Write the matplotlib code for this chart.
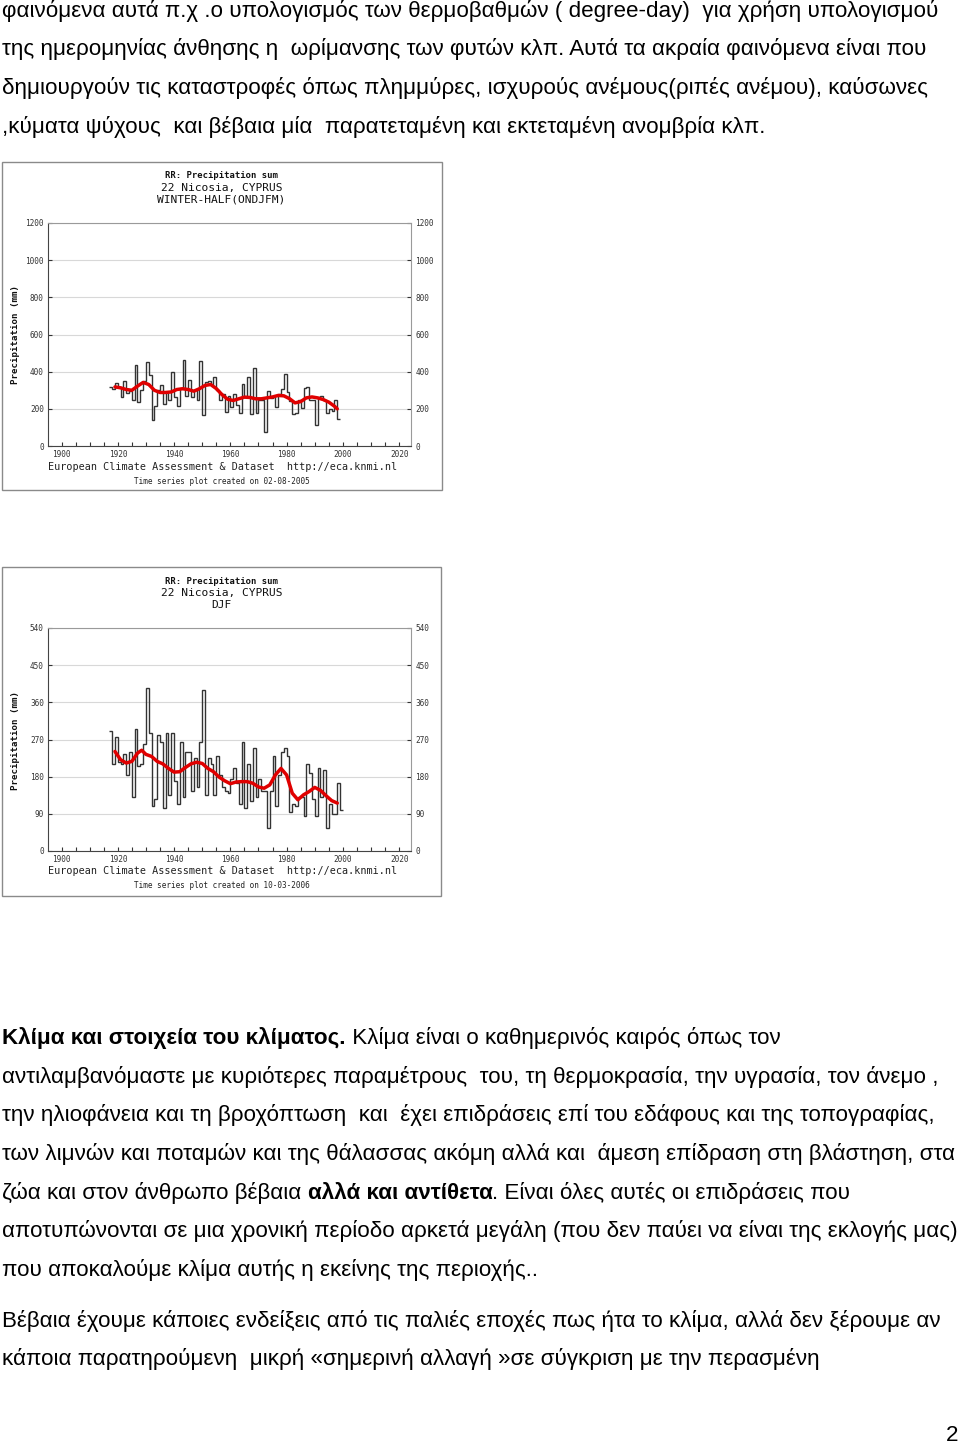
import numpy as np
import matplotlib
matplotlib.use("Agg")
import matplotlib.pyplot as plt
from matplotlib.patches import Rectangle

# --- data (Nicosia precipitation) ---
start_winter = 1917
winter_half = [320, 305, 340, 320, 265, 350, 285, 295, 250, 435, 235, 300, 350, 450, 380, 140,
               215, 300, 330, 225, 290, 250, 400, 265, 215, 310, 465, 270, 355, 265, 300, 250,
               460, 165, 345, 350, 330, 370, 300, 245, 280, 185, 270, 210, 280, 220, 180, 335,
               265, 370, 170, 420, 180, 250, 250, 75, 295, 260, 265, 210, 280, 305, 385, 290,
               240, 170, 180, 250, 205, 310, 320, 250, 245, 115, 265, 270, 245, 175, 200, 190,
               250, 145]
winter_smooth_yr = [1919, 1921, 1923, 1925, 1927, 1929, 1931, 1933, 1935, 1937, 1939, 1941, 1943,
                    1945, 1947, 1949, 1951, 1953, 1955, 1957, 1959, 1961, 1963, 1965, 1967, 1969,
                    1971, 1973, 1975, 1977, 1979, 1981, 1983, 1985, 1987, 1989, 1991, 1993, 1995,
                    1997, 1998]
winter_smooth = [318, 313, 304, 300, 322, 342, 331, 300, 288, 288, 291, 304, 308, 304, 295, 308,
                 326, 331, 309, 277, 252, 245, 254, 263, 261, 254, 254, 259, 264, 272, 270, 255,
                 232, 239, 259, 264, 259, 250, 236, 214, 200]

start_djf = 1917
djf = [290, 210, 275, 215, 210, 235, 185, 240, 130, 295, 205, 210, 260, 395, 285, 110, 125, 280,
       265, 105, 285, 135, 285, 170, 115, 265, 130, 240, 240, 145, 225, 155, 265, 390, 135, 225,
       210, 135, 230, 185, 155, 145, 140, 175, 200, 165, 115, 265, 105, 210, 120, 250, 130, 175,
       145, 145, 55, 145, 230, 110, 185, 240, 250, 230, 95, 115, 110, 130, 130, 85, 210, 190,
       125, 85, 200, 130, 195, 55, 115, 90, 90, 165, 100]
djf_smooth_yr = [1919, 1921, 1923, 1925, 1927, 1928.5, 1930, 1932, 1934, 1936, 1938, 1940, 1942,
                 1944, 1946, 1948, 1950, 1952, 1954, 1956, 1958, 1960, 1962, 1964, 1966, 1968,
                 1970, 1972, 1974, 1976, 1978, 1980, 1982, 1984, 1986, 1988, 1990, 1992, 1994,
                 1996, 1998]
djf_smooth = [241, 221, 213, 217, 237, 244, 234, 229, 217, 211, 200, 191, 192, 202, 211, 215, 212,
              200, 192, 179, 170, 163, 167, 168, 168, 164, 155, 152, 160, 184, 200, 184, 140, 124,
              136, 144, 154, 147, 134, 122, 116]

W, H = 960, 1444
fig = plt.figure(figsize=(W / 100, H / 100), dpi=100)
fig.patch.set_facecolor("white")

page_font = ["Liberation Sans", "DejaVu Sans"]
mono = ["DejaVu Sans Mono"]
PAGE_FS = 16.1


def fx(x):
    return x / W


def fy(y):
    return 1 - y / H


def chart(box, ax_box, values, start, sm_x, sm_y, ymax, ystep, titles, created, ylab_y):
    x0, y0, x1, y1 = box
    fig.patches.append(Rectangle((fx(x0), fy(y1)), (x1 - x0) / W, (y1 - y0) / H,
                                 transform=fig.transFigure, fill=False,
                                 edgecolor="#8a8a8a", lw=1.0))
    l, t, r, b = ax_box
    ax = fig.add_axes([fx(l), fy(b), (r - l) / W, (b - t) / H])
    edges = np.arange(start, start + len(values) + 1)
    ax.stairs(values, edges, baseline=None, color="#333333", lw=1.0)
    ax.plot(sm_x, sm_y, color="#e00000", lw=2.5, solid_capstyle="round")
    ax.set_xlim(1895.2, 2024.2)
    ax.set_ylim(0, ymax)
    ax.set_yticks(np.arange(0, ymax + 1, ystep))
    ax.set_xticks(np.arange(1900, 2021, 20))
    ax.set_xticks(np.arange(1900, 2021, 5), minor=True)
    ax.grid(axis="y", color="#d8d8d8", lw=0.8)
    ax.set_axisbelow(True)
    ax.tick_params(axis="both", which="both", direction="in", length=3, width=0.8,
                   labelsize=5.6, colors="#333333", pad=3)
    ax.tick_params(axis="y", right=True, labelright=True)
    ax.tick_params(axis="x", which="minor", length=3)
    for lab in ax.get_xticklabels() + ax.get_yticklabels():
        lab.set_family(mono)
    for s in ax.spines.values():
        s.set_color("#444444")
        s.set_linewidth(0.8)
    ax.spines["top"].set_color("#9a9a9a")
    ax.spines["right"].set_color("#9a9a9a")

    cx = (l + r) / 2 - 8
    fig.text(fx(cx), fy(y0 + 14), titles[0], family=mono, fontsize=6.4, weight="bold",
             ha="center", va="center", color="#111111")
    fig.text(fx(cx), fy(y0 + 26), titles[1], family=mono, fontsize=8.1,
             ha="center", va="center", color="#111111")
    fig.text(fx(cx), fy(y0 + 37.5), titles[2], family=mono, fontsize=8.1,
             ha="center", va="center", color="#111111")
    fig.text(fx(16), fy(ylab_y), "Precipitation (mm)", family=mono, fontsize=6.6,
             weight="bold", rotation=90, ha="center", va="center", color="#111111")
    fig.text(fx(48), fy(b + 20.5), "European Climate Assessment & Dataset  http://eca.knmi.nl",
             family=mono, fontsize=7.3, ha="left", va="center", color="#222222")
    fig.text(fx(cx), fy(b + 35), "Time series plot created on " + created, family=mono,
             fontsize=5.5, ha="center", va="center", color="#222222")
    return ax


chart((2, 162, 442, 490), (48, 223, 411, 446), winter_half, start_winter,
      winter_smooth_yr, winter_smooth, 1200, 200,
      ["RR: Precipitation sum", "22 Nicosia, CYPRUS", "WINTER-HALF(ONDJFM)"], "02-08-2005", 335)
chart((2, 567, 441, 896), (48, 628, 411, 851), djf, start_djf,
      djf_smooth_yr, djf_smooth, 540, 90,
      ["RR: Precipitation sum", "22 Nicosia, CYPRUS", "DJF"], "10-03-2006", 740)

# --- page text ---
renderer = fig.canvas.get_renderer()


def line(y, parts, x=2):
    for txt, bold in parts:
        t = fig.text(fx(x), fy(y), txt, family=page_font, fontsize=PAGE_FS,
                     weight="bold" if bold else "normal", ha="left", va="baseline",
                     color="black")
        x += t.get_window_extent(renderer).width


top_lines = [
    "φαινόμενα αυτά π.χ .ο υπολογισμός των θερμοβαθμών ( degree-day)  για χρήση υπολογισμού",
    "της ημερομηνίας άνθησης η  ωρίμανσης των φυτών κλπ. Αυτά τα ακραία φαινόμενα είναι που",
    "δημιουργούν τις καταστροφές όπως πλημμύρες, ισχυρούς ανέμους(ριπές ανέμου), καύσωνες",
    ",κύματα ψύχους  και βέβαια μία  παρατεταμένη και εκτεταμένη ανομβρία κλπ.",
]
for i, s in enumerate(top_lines):
    line(17 + i * 38.5, [(s, False)])

para = [
    [("Κλίμα και στοιχεία του κλίματος.", True),
     (" Κλίμα είναι ο καθημερινός καιρός όπως τον", False)],
    [("αντιλαμβανόμαστε με κυριότερες παραμέτρους  του, τη θερμοκρασία, την υγρασία, τον άνεμο ,", False)],
    [("την ηλιοφάνεια και τη βροχόπτωση  και  έχει επιδράσεις επί του εδάφους και της τοπογραφίας,", False)],
    [("των λιμνών και ποταμών και της θάλασσας ακόμη αλλά και  άμεση επίδραση στη βλάστηση, στα", False)],
    [("ζώα και στον άνθρωπο βέβαια ", False), ("αλλά και αντίθετα", True),
     (". Είναι όλες αυτές οι επιδράσεις που", False)],
    [("αποτυπώνονται σε μια χρονική περίοδο αρκετά μεγάλη (που δεν παύει να είναι της εκλογής μας)", False)],
    [("που αποκαλούμε κλίμα αυτής η εκείνης της περιοχής..", False)],
]
for i, parts in enumerate(para):
    line(1044 + i * 38.7, parts)

last = [
    "Βέβαια έχουμε κάποιες ενδείξεις από τις παλιές εποχές πως ήτα το κλίμα, αλλά δεν ξέρουμε αν",
    "κάποια παρατηρούμενη  μικρή «σημερινή αλλαγή »σε σύγκριση με την περασμένη",
]
for i, s in enumerate(last):
    line(1327 + i * 38.5, [(s, False)])

fig.text(fx(958), fy(1441), "2", family=page_font, fontsize=PAGE_FS, ha="right",
         va="baseline", color="black")

fig.savefig("out.png", dpi=100, facecolor="white")
